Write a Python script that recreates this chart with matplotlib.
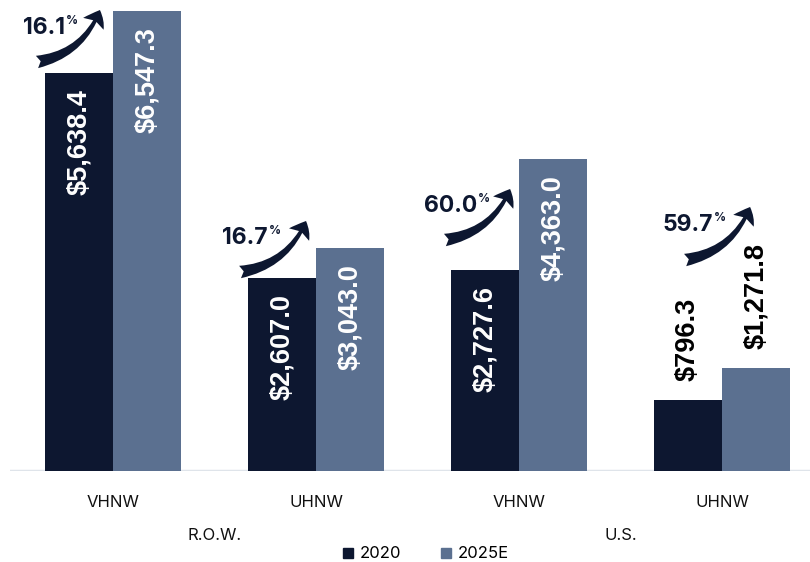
import matplotlib
matplotlib.use("Agg")
import matplotlib.pyplot as plt
from matplotlib.patches import FancyArrowPatch
from matplotlib.lines import Line2D
import numpy as np

# ---- data ----
tiers = ["VHNW", "UHNW", "VHNW", "UHNW"]
regions = ["R.O.W.", "U.S."]
series_names = ["2020", "2025E"]
values_2020 = [5638.4, 2607.0, 2727.6, 796.3]
values_2025 = [6547.3, 3043.0, 4363.0, 1271.8]

DARK = "#0d1730"
LIGHT = "#5b7090"
GRID = "#dfe4ea"

BASE = -250.0  # value axis starts slightly below zero

# annotation layout (data coordinates relative to group centre)
arrow_layout = [
    # (tail_dx, tail_y, tip_dx, tip_y, text_dx, text_y)
    (-0.374, 5797, -0.064, 6565, -0.236, 6292),
    (-0.374, 2692, -0.049, 3446, -0.236, 3195),
    (-0.365, 3165, -0.044, 3919, -0.207, 3668),
    (-0.182, 2869, 0.138, 3653, -0.044, 3387),
]

W, H = 810, 562
fig = plt.figure(figsize=(W / 100, H / 100), dpi=100)
ax = fig.add_axes([10 / W, (H - 471) / H, 800 / W, 471 / H])

x = np.arange(len(tiers))
bw = 0.335
v20 = np.array(values_2020)
v25 = np.array(values_2025)
ax.bar(x - bw / 2, v20 - BASE, bottom=BASE, width=bw, color=DARK, linewidth=0)
ax.bar(x + bw / 2, v25 - BASE, bottom=BASE, width=bw, color=LIGHT, linewidth=0)

ax.set_xlim(-0.507, 3.433)
ax.set_ylim(BASE, 6713)

for s in ax.spines.values():
    s.set_visible(False)
ax.axhline(BASE, color=GRID, lw=2.5, zorder=0)
ax.set_yticks([])
ax.set_xticks(x)
ax.set_xticklabels(tiers, fontsize=12, family=["Inter", "DejaVu Sans"], color="#111111")
ax.tick_params(axis="x", length=0, pad=17)

# bar value labels
def fmt(v):
    return "${:,.1f}".format(v)

for xi, vals in ((x - bw / 2, v20), (x + bw / 2, v25)):
    for xx, v in zip(xi, vals):
        if v > 1500:
            ax.annotate(fmt(v), xy=(xx, v), xytext=(0, -16), textcoords="offset pixels",
                        rotation=90, ha="center", va="top", color="white",
                        fontsize=19.5, fontweight="bold", family="Liberation Sans")
        else:
            ax.annotate(fmt(v), xy=(xx, v), xytext=(0, 19), textcoords="offset pixels",
                        rotation=90, ha="center", va="bottom", color="black",
                        fontsize=19.5, fontweight="bold", family="Liberation Sans")

# growth arrows and labels
for i, (tdx, ty, hdx, hy, xdx, xy_) in enumerate(arrow_layout):
    growth = (v25[i] / v20[i] - 1) * 100
    arr = FancyArrowPatch((x[i] + tdx, ty), (x[i] + hdx, hy),
                          arrowstyle="fancy,head_length=0.55,head_width=0.85,tail_width=0.45",
                          mutation_scale=20, connectionstyle="arc3,rad=0.28",
                          color=DARK, shrinkA=0, shrinkB=0, lw=0)
    ax.add_patch(arr)
    ax.text(x[i] + xdx, xy_, "{:.1f}".format(growth), ha="right", va="center",
            fontsize=16.5, fontweight="bold", color=DARK, family=["Inter", "DejaVu Sans"])
    ax.annotate("%", xy=(x[i] + xdx, xy_), xytext=(1, 7), textcoords="offset pixels",
                ha="left", va="center", fontsize=8.5, fontweight="bold", color=DARK,
                family=["Inter", "DejaVu Sans"])

# region labels
tr = ax.get_xaxis_transform()
ax.text(0.5, (471 - 535) / 471, regions[0], transform=tr, ha="center", va="center",
        fontsize=12, family=["Inter", "DejaVu Sans"], color="#111111")
ax.text(2.5, (471 - 535) / 471, regions[1], transform=tr, ha="center", va="center",
        fontsize=12, family=["Inter", "DejaVu Sans"], color="#111111")

handles = [Line2D([], [], marker="s", ls="", color=DARK, markersize=7.5),
           Line2D([], [], marker="s", ls="", color=LIGHT, markersize=7.5)]
fig.legend(handles, series_names, loc="center", bbox_to_anchor=(424 / W, (H - 554) / H),
           ncol=2, frameon=False, handletextpad=0.2, columnspacing=2.2,
           handlelength=1.0, prop={"family": ["Inter", "DejaVu Sans"], "size": 12})

fig.savefig("out.png", dpi=100)
